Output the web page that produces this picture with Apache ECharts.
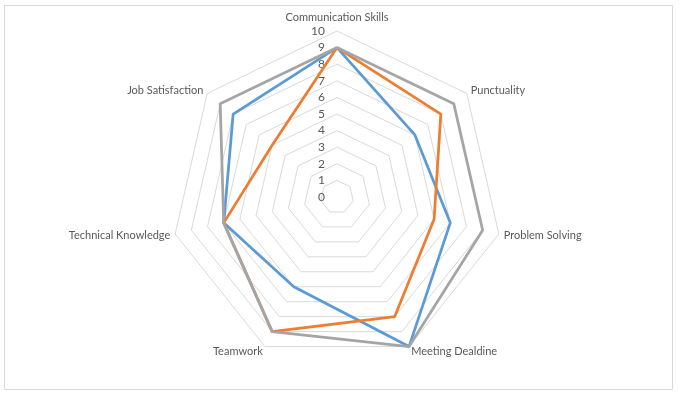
<!DOCTYPE html>
<html>
<head>
<meta charset="utf-8">
<script src="https://cdn.jsdelivr.net/npm/echarts@6/dist/echarts.min.js"></script>
<style>html,body{margin:0;padding:0;background:#fff}#c{width:679px;height:393px}</style>
</head>
<body>
<div id="c"></div>
<script>
// Categories in clockwise order from the top, as in the reference
var categories = ['Communication Skills', 'Punctuality', 'Problem Solving', 'Meeting Dealdine', 'Teamwork', 'Technical Knowledge', 'Job Satisfaction'];
var seriesBlue = [9, 6, 7, 10, 6, 7, 8];
var seriesOrange = [9, 8, 6, 8, 9, 7, 5];
var seriesGray = [9, 9, 9, 10, 9, 7, 9];
var axisMin = 0, axisMax = 10;

// ECharts lays indicators counterclockwise; reorder so they read clockwise
function reorder(arr) { var out = [arr[0]]; for (var i = arr.length - 1; i >= 1; i--) out.push(arr[i]); return out; }

var cats = reorder(categories);
var indicator = cats.map(function (n, i) {
  var o = { name: n, min: axisMin, max: axisMax };
  if (i === 0) o.axisLabel = { show: true };
  return o;
});

var chart = echarts.init(document.getElementById('c'));
chart.setOption({
  backgroundColor: '#fff',
  animation: false,
  graphic: [{ type: 'rect', shape: { x: 4.5, y: 5.5, width: 668, height: 384 }, style: { fill: 'none', stroke: '#D9D9D9', lineWidth: 1 } }],
  radar: {
    center: [337, 197],
    radius: 166,
    shape: 'polygon',
    startAngle: 90,
    splitNumber: 10,
    nameGap: 5,
    axisName: {
      color: '#595959', fontFamily: 'Lato', fontSize: 11,
      formatter: function (name) { return name === categories[0] ? '{t|' + name + '}' : name; },
      rich: { t: { color: '#595959', fontFamily: 'Lato', fontSize: 11, padding: [0, 0, 3, 0] } }
    },
    axisLine: { show: false },
    axisTick: { show: false },
    splitArea: { show: false },
    splitLine: { lineStyle: { color: '#D9D9D9', width: 1 } },
    axisLabel: { show: false, color: '#595959', fontFamily: 'Lato', fontSize: 12, margin: 12 },
    indicator: indicator
  },
  series: [{
    type: 'radar',
    symbol: 'none',
    data: [
      { value: reorder(seriesBlue), lineStyle: { color: '#5B9BD5', width: 2.75 }, itemStyle: { color: '#5B9BD5' } },
      { value: reorder(seriesOrange), lineStyle: { color: '#ED7D31', width: 2.75 }, itemStyle: { color: '#ED7D31' } },
      { value: reorder(seriesGray), lineStyle: { color: '#A5A5A5', width: 2.75 }, itemStyle: { color: '#A5A5A5' } }
    ]
  }]
});
</script>
</body>
</html>
